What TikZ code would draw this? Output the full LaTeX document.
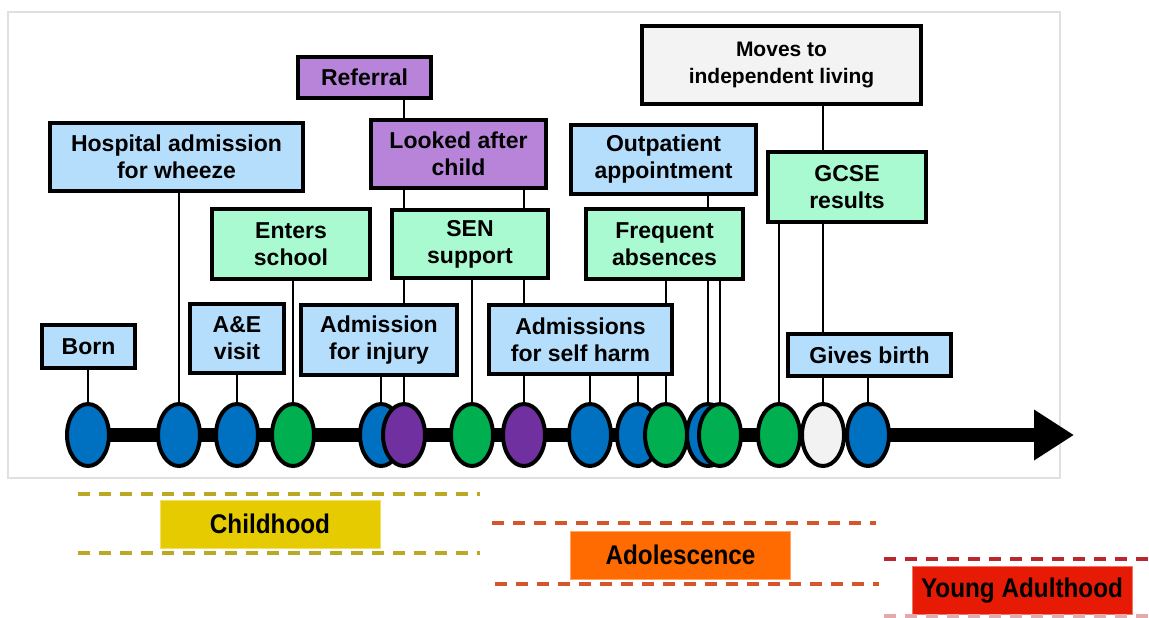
\documentclass[tikz,border=0pt]{standalone}
\usepackage{fontspec}
\setmainfont{Liberation Sans}
\newfontfamily\stagefont[FakeStretch=0.9]{Liberation Sans}
\usetikzlibrary{positioning, arrows.meta, shapes.geometric, backgrounds}

\definecolor{boxblue}{HTML}{B4DEFC}
\definecolor{boxgreen}{HTML}{A9F9D1}
\definecolor{boxpurple}{HTML}{B784D9}
\definecolor{boxgrey}{HTML}{F3F3F3}
\definecolor{evblue}{HTML}{0070C0}
\definecolor{evgreen}{HTML}{00B050}
\definecolor{evpurple}{HTML}{7030A0}
\definecolor{evwhite}{HTML}{F2F2F2}
\definecolor{childgold}{HTML}{E6CB00}
\definecolor{teenorange}{HTML}{FF6B00}
\definecolor{adultred}{HTML}{E61A05}
\definecolor{childdash}{HTML}{BBA824}
\definecolor{teendash}{HTML}{D4562A}
\definecolor{adultdash}{HTML}{B8282C}

\begin{document}
\begin{tikzpicture}[
          x=0.5pt, y=-0.5pt,
          event/.style={rectangle, draw, line width=2pt, align=center, inner sep=0pt,
                        font=\bfseries\fontsize{11.5}{13.5}\selectfont},
          ev/.style={ellipse, draw, line width=2pt, minimum width=21pt, minimum height=31pt, inner sep=0pt},
          stem/.style={line width=1.3pt},
          stage/.style={rectangle, minimum width=110pt, minimum height=24pt,
                        font=\stagefont\bfseries\fontsize{13.5}{16}\selectfont},
          phase/.style={line width=2pt, dash pattern=on 6pt off 4.5pt}
        ]
          \useasboundingbox (0,0) rectangle (1149,617);

          % Bottom row of boxes
          \node[event, fill=boxblue, minimum width=46.5pt, minimum height=21.5pt] (born) at (88.5,346.5) {Born};
          \node[event, fill=boxblue, minimum width=47pt, minimum height=34.5pt] (aevisit) at (237,338.5) {A\&E\\visit};
          \node[event, fill=boxblue, minimum width=78pt, minimum height=35pt] (injury) at (379,340) {Admission\\for injury};
          \node[event, fill=boxblue, minimum width=91.5pt, minimum height=34.5pt] (selfharm) at (580.5,339.5) {Admissions\\for self harm};
          \node[event, fill=boxblue, minimum width=81.5pt, minimum height=21pt] (givesbirth) at (869.5,355) {Gives birth};

          % Middle row
          \node[event, fill=boxgreen, minimum width=79pt, minimum height=35pt] (school) at (291,244) {Enters\\school};
          \node[event, fill=boxgreen, minimum width=78pt, minimum height=34pt] (sen) at (470,244) {SEN\\support};
          \node[event, fill=boxgreen, minimum width=78.5pt, minimum height=35pt] (absences) at (664.5,244) {Frequent\\absences};
          \node[event, fill=boxgreen, minimum width=79pt, minimum height=35pt] (gcse) at (847,187) {GCSE\\results};

          % Top row
          \node[event, fill=boxblue, minimum width=126.5pt, minimum height=34pt] (wheeze) at (176.5,157) {Hospital admission\\for wheeze};
          \node[event, fill=boxpurple, minimum width=87.5pt, minimum height=34pt] (lookedafter) at (458.5,154) {Looked after\\child};
          \node[event, fill=boxpurple, minimum width=66.5pt, minimum height=20.5pt] (referral) at (364.5,77.5) {Referral};
          \node[event, fill=boxblue, minimum width=92.5pt, minimum height=34.5pt] (outpatient) at (663.5,159.5) {Outpatient\\appointment};
          \node[event, fill=boxgrey, minimum width=139.5pt, minimum height=39pt,
                font=\bfseries\fontsize{10.5}{13.5}\selectfont] (moves) at (781.5,65) {Moves to\\independent living};

          % Events on the timeline
          \node[ev, fill=evblue] (e1) at (88,435) {};
          \node[ev, fill=evblue] (e2) at (179,435) {};
          \node[ev, fill=evblue] (e3) at (237,435) {};
          \node[ev, fill=evgreen] (e4) at (293,435) {};
          \node[ev, fill=evblue] (e5) at (381,435) {};
          \node[ev, fill=evpurple] (e6) at (404,435) {};
          \node[ev, fill=evgreen] (e7) at (472,435) {};
          \node[ev, fill=evpurple] (e8) at (524,435) {};
          \node[ev, fill=evblue] (e9) at (590,435) {};
          \node[ev, fill=evblue] (e10) at (638,435) {};
          \node[ev, fill=evgreen] (e11) at (666,435) {};
          \node[ev, fill=evblue] (e12) at (708,435) {};
          \node[ev, fill=evgreen] (e13) at (720,435) {};
          \node[ev, fill=evgreen] (e14) at (779,435) {};
          \node[ev, fill=evwhite] (e15) at (823,435) {};
          \node[ev, fill=evblue] (e16) at (868,435) {};
          \coordinate (tlend) at (1074,435);

          \begin{pgfonlayer}{background}
            \draw[draw=black!12, line width=0.6pt, fill=white] (8,12) rectangle (1060,478);
            \draw[line width=7pt, -{Triangle[length=20pt, width=24pt]}] (e1.center) -- (tlend);

            % Stems
            \draw[stem] (e1.center) -- (e1.center |- born.south);
            \draw[stem] (e2.center) -- (e2.center |- wheeze.south);
            \draw[stem] (e3.center) -- (e3.center |- aevisit.south);
            \draw[stem] (e4.center) -- (e4.center |- school.south);
            \draw[stem] (e5.center) -- (e5.center |- injury.south);
            \draw[stem] (e6.center) -- (e6.center |- lookedafter.south);
            \draw[stem] (e7.center) -- (e7.center |- sen.south);
            \draw[stem] (e8.center) -- (e8.center |- lookedafter.south);
            \draw[stem] (e9.center) -- (e9.center |- selfharm.south);
            \draw[stem] (e10.center) -- (e10.center |- selfharm.south);
            \draw[stem] (e11.center) -- (e11.center |- absences.south);
            \draw[stem] (e12.center) -- (e12.center |- outpatient.south);
            \draw[stem] (e13.center) -- (e13.center |- absences.south);
            \draw[stem] (e14.center) -- (e14.center |- gcse.south);
            \draw[stem] (e15.center) -- (e15.center |- moves.south);
            \draw[stem] (e16.center) -- (e16.center |- givesbirth.south);
            \draw[stem] (e6.center |- referral.south) -- (e6.center |- lookedafter.north);
          \end{pgfonlayer}

          % Life stages
          \node[stage, fill=childgold, draw=childgold!60!white, line width=0.5pt] (childhood) at (270,524) {Childhood};
          \node[stage, fill=teenorange, draw=teenorange!60!white, line width=0.5pt] (adolescence) at (680.5,555) {Adolescence};
          \node[stage, fill=adultred, draw=adultred!60!white, line width=0.5pt] (adulthood) at (1022,590.5) {Young Adulthood};

          \draw[phase, childdash] (78,494) -- (480,494);
          \draw[phase, childdash] (78,553) -- (480,553);
          \draw[phase, teendash] (492,523) -- (876,523);
          \draw[phase, teendash] (495,584) -- (879,584);
          \draw[phase, adultdash] (884,559) -- (1149,559);
          \draw[phase, adultdash!40!white] (884,616) -- (1149,616);
      \end{tikzpicture}
\end{document}
